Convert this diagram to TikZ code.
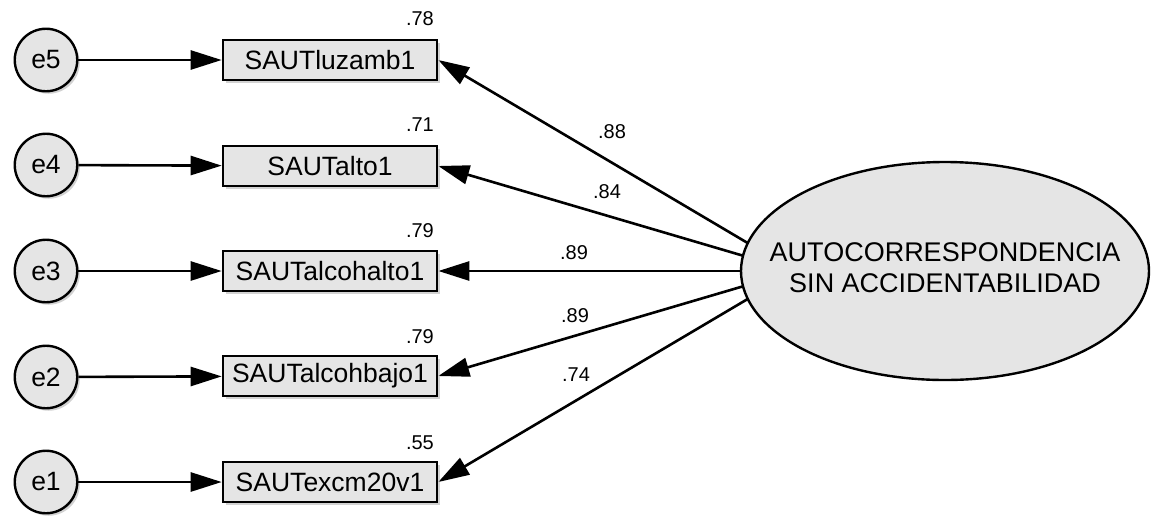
\documentclass[tikz,border=0pt]{standalone}
\usepackage{fontspec}
\setmainfont{Liberation Sans}
\usetikzlibrary{arrows.meta,shapes.geometric,shadows,backgrounds}
\begin{document}
\begin{tikzpicture}[x=1pt,y=1pt,
  every node/.style={font=\fontsize{26.5}{31}\selectfont},
  shade/.style={drop shadow={shadow xshift=2.5pt,shadow yshift=-2.5pt,fill=black!35,opacity=0.5}},
  err/.style={circle,draw,line width=2.4pt,fill=gray!20,minimum size=62.5pt,inner sep=0pt,shade},
  obs/.style={rectangle,draw,line width=2.6pt,fill=gray!20,minimum width=214pt,minimum height=40pt,inner sep=0pt,shade},
  lat/.style={ellipse,draw,line width=2.4pt,fill=gray!20,minimum width=408pt,minimum height=218pt,inner sep=0pt,font=\fontsize{27}{31}\selectfont},
  reg/.style={line width=2.6pt,-{Triangle[length=31pt,width=19pt]}},
  coef/.style={font=\fontsize{20}{23}\selectfont,inner sep=0pt}]
\useasboundingbox (0,0) rectangle (1153,-515);

\node[err] (e5) at (46,-60) {e5};
\node[err] (e4) at (46,-165) {e4};
\node[err] (e3) at (46,-271) {e3};
\node[err] (e2) at (46,-377) {e2};
\node[err] (e1) at (46,-482) {e1};

\node[obs] (v5) at (330,-60) {SAUTluzamb1};
\node[obs] (v4) at (330,-166) {SAUTalto1};
\node[obs] (v3) at (330,-271) {SAUTalcohalto1};
\node[obs] (v2) at (330,-376) {SAUTalcohbajo1};
\node[obs] (v1) at (330,-482) {SAUTexcm20v1};

\node[lat] (F) at (945,-271) {\makebox[0pt]{\begin{tabular}{@{}c@{}}AUTOCORRESPONDENCIA\\SIN ACCIDENTABILIDAD\end{tabular}}};
\coordinate (Fc) at (795,-271);

\foreach \i in {1,...,5}{
  \draw[reg] (e\i) -- (v\i);
}
\begin{scope}[on background layer]
\foreach \i in {1,...,5}{
  \draw[reg] (Fc) -- (v\i.east);
}
\end{scope}

\node[coef,anchor=east] (r5) at (434,-19) {.78};
\node[coef,anchor=east] (r4) at (434,-125) {.71};
\node[coef,anchor=east] (r3) at (434,-231) {.79};
\node[coef,anchor=east] (r2) at (434,-337) {.79};
\node[coef,anchor=east] (r1) at (434,-443) {.55};

\node[coef] (l5) at (612,-132) {.88};
\node[coef] (l4) at (607,-192) {.84};
\node[coef] (l3) at (574,-253) {.89};
\node[coef] (l2) at (575,-316) {.89};
\node[coef] (l1) at (576,-375) {.74};
\end{tikzpicture}
\end{document}
